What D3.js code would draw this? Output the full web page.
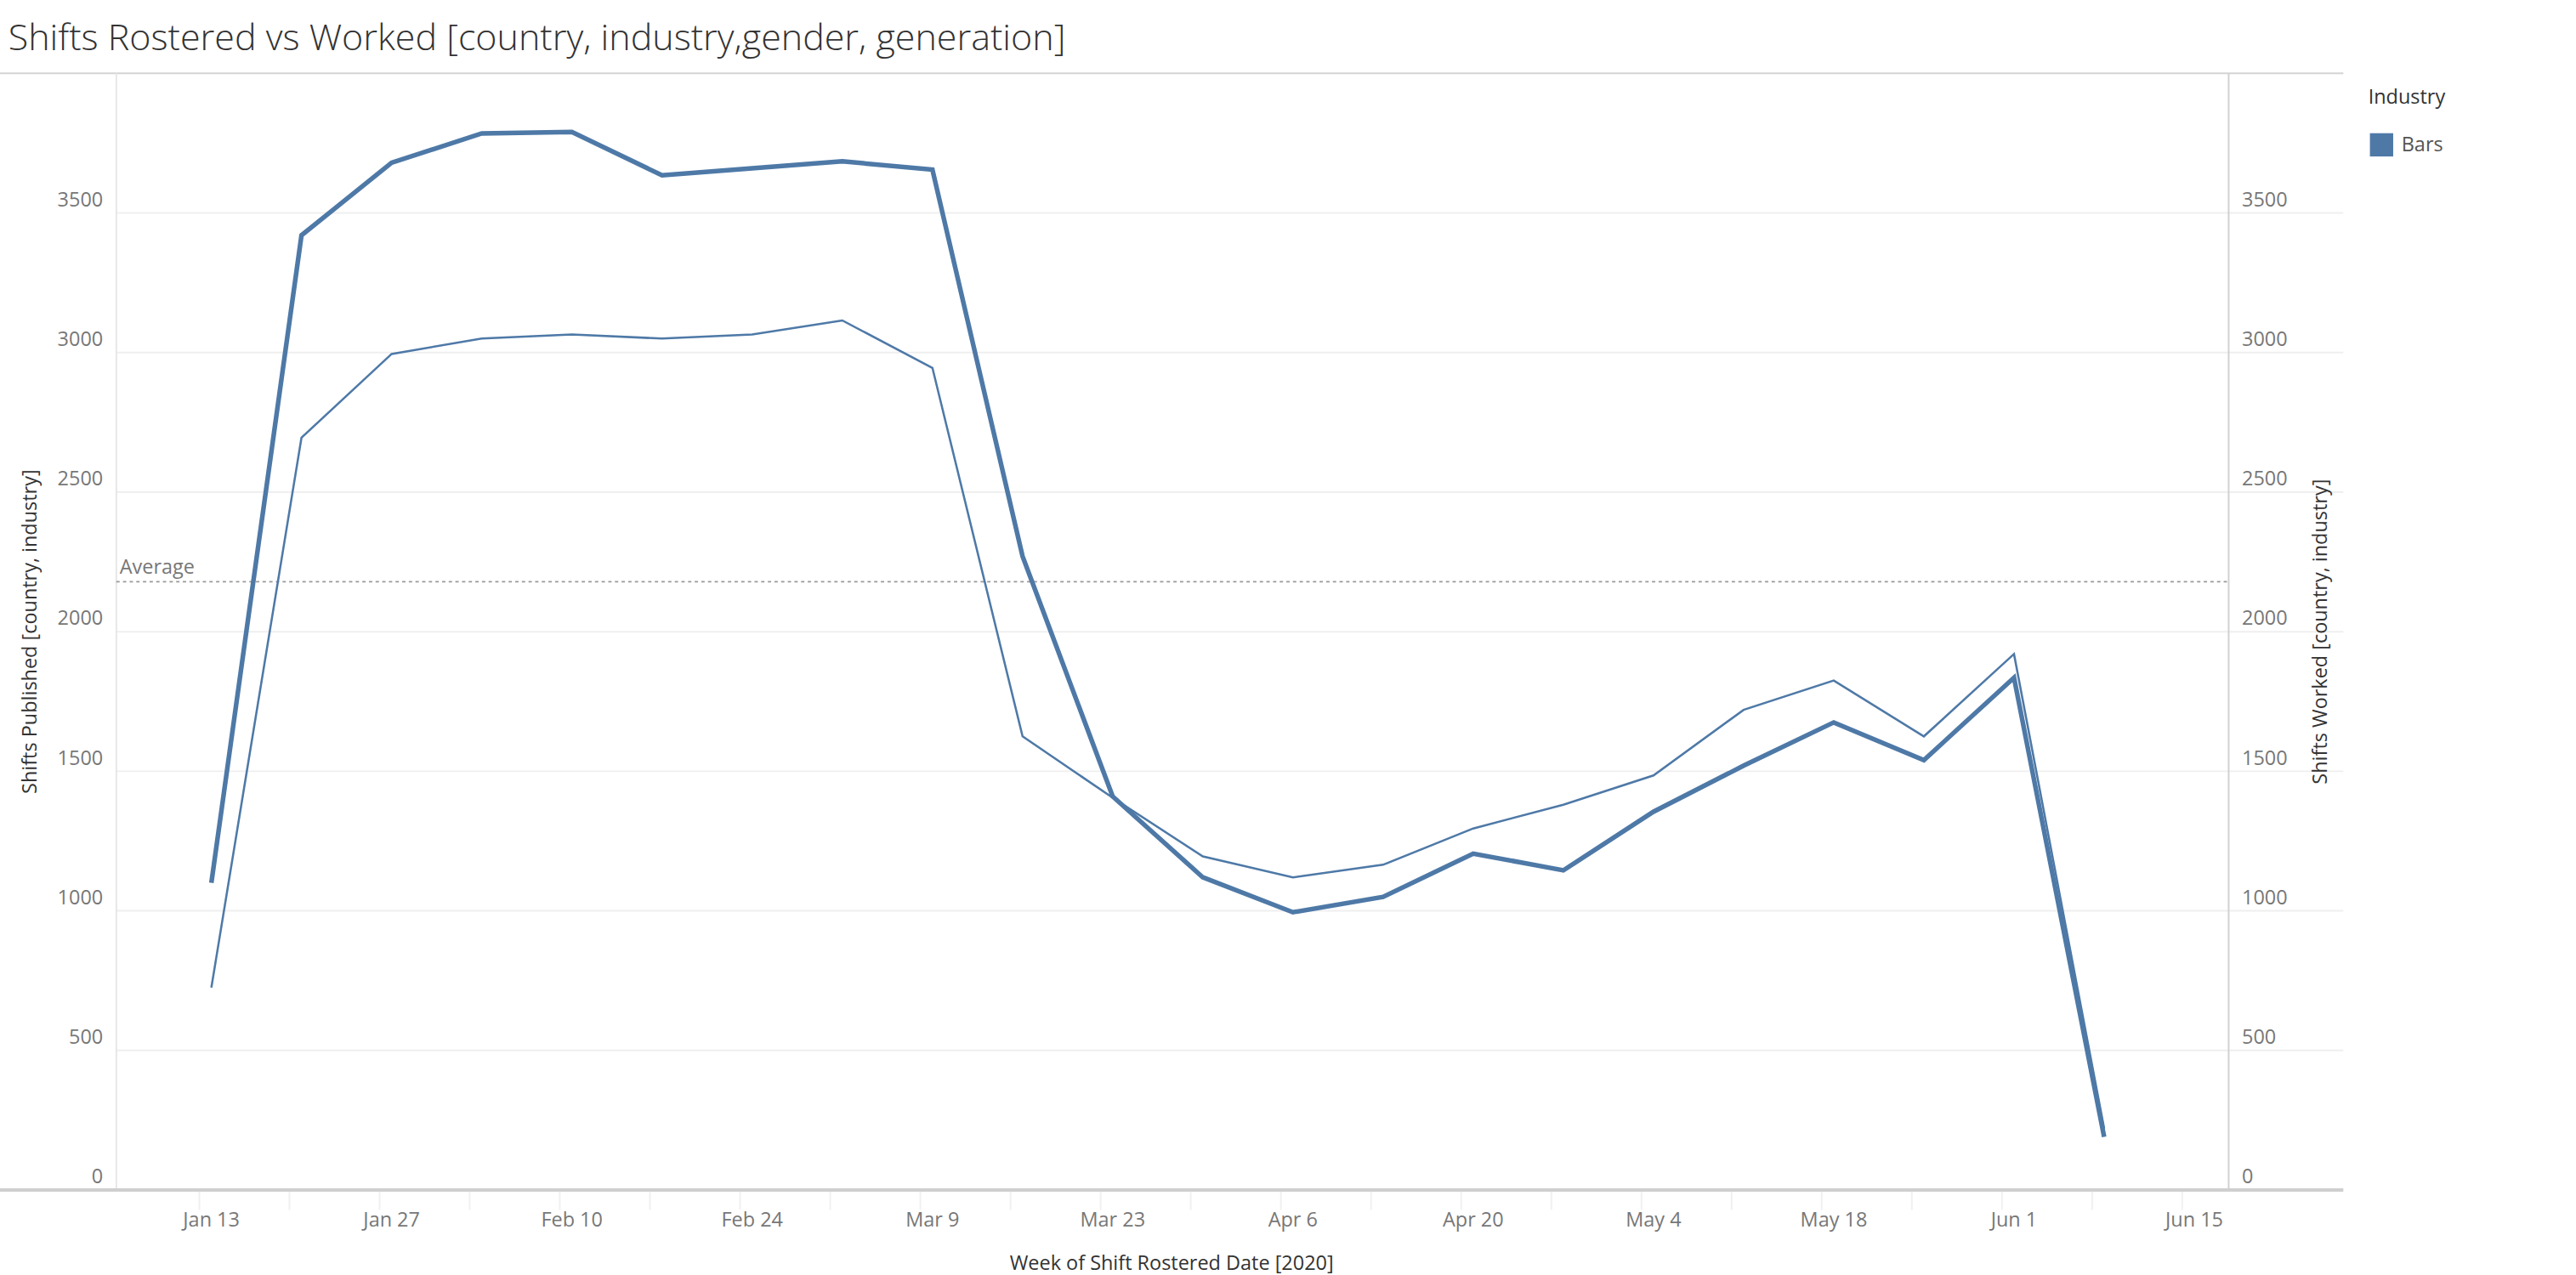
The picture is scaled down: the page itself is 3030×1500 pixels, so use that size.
<!DOCTYPE html>
<html><head><meta charset="utf-8">
<script src="https://cdn.jsdelivr.net/npm/d3@7"></script>
<style>body{margin:0;background:#fff}svg{display:block;font-family:"Open Sans",sans-serif}</style>
</head><body>
<script>
const weeks = ["2020-01-13","2020-01-20","2020-01-27","2020-02-03","2020-02-10","2020-02-17","2020-02-24","2020-03-02","2020-03-09","2020-03-16","2020-03-23","2020-03-30","2020-04-06","2020-04-13","2020-04-20","2020-04-27","2020-05-04","2020-05-11","2020-05-18","2020-05-25","2020-06-01","2020-06-08"];
const published = [1100,3420,3680,3785,3790,3635,3660,3685,3655,2270,1410,1120,995,1050,1205,1145,1355,1520,1675,1540,1835,190];
const worked = [725,2695,2995,3050,3065,3050,3065,3115,2945,1625,1405,1195,1120,1165,1295,1380,1485,1720,1825,1625,1920,220];
const yTicks = [0,500,1000,1500,2000,2500,3000,3500];
const xTickDates = ["2020-01-13","2020-01-27","2020-02-10","2020-02-24","2020-03-09","2020-03-23","2020-04-06","2020-04-20","2020-05-04","2020-05-18","2020-06-01","2020-06-15"];
const averageValue = 2179;

const W = 1550, H = 767;
const svg = d3.select("body").append("svg")
  .attr("width", 3030).attr("height", 1500).attr("viewBox", `0 0 ${W} ${H}`);

const parse = d3.utcParse("%Y-%m-%d");
const day = 864e5;
const pLeft = 70, pRight = 1341, pTop = 44, pBottom = 716;
const x = d3.scaleUtc()
  .domain([new Date(+parse("2020-01-13") - 7.38*day), new Date(+parse("2020-06-15") + 2.67*day)])
  .range([pLeft, pRight]);
const y = d3.scaleLinear().domain([0, 4000]).range([pBottom, pTop]);
const color = "#4e79a7";

svg.append("text").attr("x", 5).attr("y", 30).attr("font-size", 22).attr("font-weight", 300)
  .attr("fill", "#333").text("Shifts Rostered vs Worked [country, industry,gender, generation]");

// gridlines
svg.append("g").selectAll("line").data(yTicks.slice(1)).join("line")
  .attr("x1", pLeft).attr("x2", 1410).attr("y1", d => y(d)).attr("y2", d => y(d))
  .attr("stroke", "#efefef").attr("stroke-width", 1);

svg.append("line").attr("x1", 0).attr("x2", 1410).attr("y1", pTop).attr("y2", pTop).attr("stroke", "#d4d4d4");
svg.append("line").attr("x1", pLeft).attr("x2", pLeft).attr("y1", pTop).attr("y2", pBottom).attr("stroke", "#e6e6e6");
svg.append("line").attr("x1", pRight).attr("x2", pRight).attr("y1", pTop).attr("y2", pBottom).attr("stroke", "#d0d0d0");

// y axes labels
const tickStyle = g => g.attr("font-size", 12).attr("fill", "#777");
svg.append("g").call(tickStyle).attr("text-anchor", "end")
  .selectAll("text").data(yTicks).join("text")
  .attr("x", 62).attr("y", d => y(d) - 4).text(d => d);
svg.append("g").call(tickStyle).attr("text-anchor", "start")
  .selectAll("text").data(yTicks).join("text")
  .attr("x", 1349).attr("y", d => y(d) - 4).text(d => d);

svg.append("text").attr("transform", `translate(22,380) rotate(-90)`).attr("text-anchor", "middle")
  .attr("font-size", 12).attr("fill", "#333").text("Shifts Published [country, industry]");
svg.append("text").attr("transform", `translate(1400,380) rotate(-90)`).attr("text-anchor", "middle")
  .attr("font-size", 12).attr("fill", "#333").text("Shifts Worked [country, industry]");

// x axis
svg.append("g").attr("transform", `translate(0,${pBottom})`)
  .call(d3.axisBottom(x).ticks(d3.utcWeek.every(1)).tickSize(12).tickFormat(""))
  .call(g => g.select(".domain").remove())
  .call(g => g.selectAll("line").attr("stroke", "#f0f0f0"));
svg.append("line").attr("x1", 0).attr("x2", 1410).attr("y1", pBottom).attr("y2", pBottom)
  .attr("stroke", "#cfcfcf").attr("stroke-width", 2);
svg.append("g").call(tickStyle).attr("text-anchor", "middle")
  .selectAll("text").data(xTickDates).join("text")
  .attr("x", d => x(parse(d))).attr("y", 738).text(d => d3.utcFormat("%b %-d")(parse(d)));
svg.append("text").attr("x", 705).attr("y", 764).attr("text-anchor", "middle")
  .attr("font-size", 12).attr("fill", "#333").text("Week of Shift Rostered Date [2020]");

// average
svg.append("line").attr("x1", pLeft).attr("x2", pRight).attr("y1", y(averageValue)).attr("y2", y(averageValue))
  .attr("stroke", "#999").attr("stroke-dasharray", "2,2");
svg.append("text").attr("x", 72).attr("y", y(averageValue) - 5).attr("font-size", 12)
  .attr("fill", "#777").text("Average");

// lines
const line = d3.line().x((d, i) => x(parse(weeks[i]))).y(d => y(d));
svg.append("path").datum(worked).attr("d", line).attr("fill", "none")
  .attr("stroke", color).attr("stroke-width", 1.3);
svg.append("path").datum(published).attr("d", line).attr("fill", "none")
  .attr("stroke", color).attr("stroke-width", 2.8);

// legend
svg.append("text").attr("x", 1425).attr("y", 62).attr("font-size", 12).attr("fill", "#333").text("Industry");
svg.append("rect").attr("x", 1426).attr("y", 80).attr("width", 14).attr("height", 14).attr("fill", color);
svg.append("text").attr("x", 1445).attr("y", 91).attr("font-size", 12).attr("fill", "#555").text("Bars");
</script>
</body></html>
